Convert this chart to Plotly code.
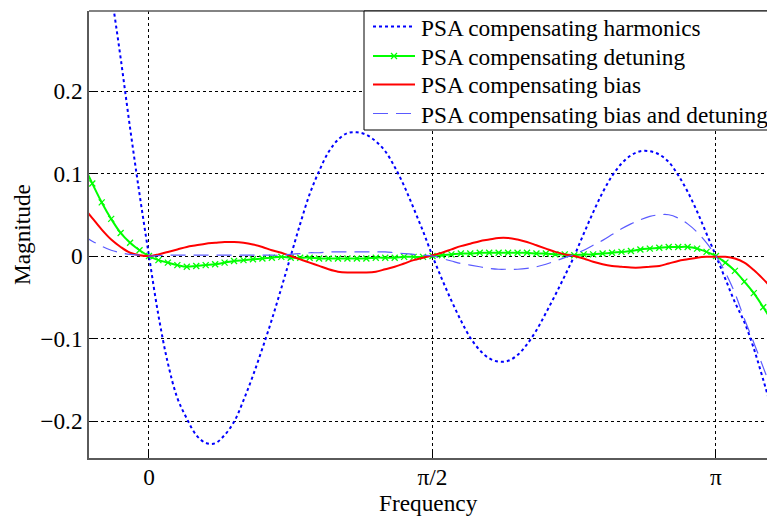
import numpy as np
import plotly.graph_objects as go

# Frequency samples (rad): k * pi/60 for k = -7 .. 66
freq = np.arange(-7, 67) * np.pi / 60

harmonics = [
    0.56, 0.48, 0.40, 0.32, 0.24, 0.155, 0.075, 0.0,
    -0.072, -0.13, -0.172, -0.197, -0.217, -0.2265, -0.227, -0.217, -0.201, -0.175, -0.145, -0.112, -0.077, -0.039, 0.0,
    0.039, 0.075, 0.103, 0.126, 0.141, 0.149, 0.150, 0.147, 0.139, 0.127, 0.108, 0.085, 0.058, 0.030, 0.0,
    -0.028, -0.054, -0.078, -0.099, -0.114, -0.124, -0.128, -0.127, -0.120, -0.107, -0.090, -0.069, -0.047, -0.024, 0.0,
    0.027, 0.053, 0.077, 0.097, 0.112, 0.122, 0.127, 0.127, 0.123, 0.114, 0.098, 0.078, 0.054, 0.027, 0.0,
    -0.028, -0.056, -0.080, -0.112, -0.150, -0.190,
]

detuning = [
    0.112, 0.088, 0.065, 0.045, 0.028, 0.016, 0.007, 0.0,
    -0.005, -0.008, -0.011, -0.013, -0.012, -0.011, -0.010, -0.008, -0.006, -0.005, -0.004, -0.003, -0.002, -0.001, -0.002,
    -0.002, -0.002, -0.003, -0.003, -0.003, -0.003, -0.003, -0.003, -0.002, -0.002, -0.002, -0.001, -0.001, -0.001, 0.0,
    0.001, 0.002, 0.003, 0.003, 0.004, 0.004, 0.004, 0.004, 0.004, 0.004, 0.003, 0.003, 0.002, 0.002, 0.001,
    0.002, 0.002, 0.003, 0.004, 0.005, 0.006, 0.008, 0.009, 0.010, 0.011, 0.011, 0.011, 0.009, 0.005, 0.0,
    -0.008, -0.018, -0.031, -0.045, -0.062, -0.080,
]

bias = [
    0.060, 0.046, 0.032, 0.020, 0.011, 0.004, 0.001, 0.0,
    0.002, 0.005, 0.008, 0.011, 0.013, 0.015, 0.016, 0.017, 0.017, 0.016, 0.014, 0.011, 0.007, 0.004, 0.0,
    -0.004, -0.008, -0.012, -0.016, -0.019, -0.020, -0.020, -0.020, -0.019, -0.016, -0.013, -0.009, -0.005, -0.002, 0.001,
    0.004, 0.008, 0.012, 0.015, 0.018, 0.020, 0.022, 0.022, 0.020, 0.017, 0.013, 0.009, 0.005, 0.002, 0.0,
    -0.003, -0.007, -0.010, -0.012, -0.013, -0.014, -0.014, -0.013, -0.012, -0.009, -0.006, -0.004, -0.002, -0.001, -0.001,
    -0.001, -0.003, -0.008, -0.017, -0.028, -0.040,
]

bias_detuning = [
    0.025, 0.018, 0.012, 0.007, 0.004, 0.002, 0.001, 0.0,
    0.0005, 0.001, 0.001, 0.001, 0.001, 0.001, 0.001, 0.001, 0.001, 0.001, 0.001, 0.001, 0.001, 0.001, 0.002,
    0.003, 0.004, 0.004, 0.005, 0.005, 0.005, 0.005, 0.005, 0.005, 0.005, 0.004, 0.003, 0.002, 0.001, 0.0,
    -0.003, -0.006, -0.009, -0.011, -0.013, -0.015, -0.016, -0.016, -0.016, -0.015, -0.013, -0.010, -0.006, -0.002, 0.002,
    0.007, 0.013, 0.019, 0.026, 0.033, 0.039, 0.044, 0.048, 0.050, 0.050, 0.046, 0.039, 0.029, 0.016, 0.0,
    -0.020, -0.045, -0.076, -0.105, -0.135, -0.165,
]

names = [
    "PSA compensating harmonics",
    "PSA compensating detuning",
    "PSA compensating bias",
    "PSA compensating bias and detuning",
]

x_tickvals = [0, np.pi / 2, np.pi]
x_ticktext = ["0", "π/2", "π"]
y_tickvals = [-0.2, -0.1, 0, 0.1, 0.2]
y_ticktext = ["−0.2", "−0.1", "0", "0.1", "0.2"]

FONT = "Liberation Serif"
FS = 23.3

# plot-area geometry in pixels (for placing the hand-drawn legend and titles)
L, R, T, B = 89, 767, 11, 458


def px(xp):
    return (xp - L) / (R - L)


def py(yp):
    return (B - yp) / (B - T)


styles = [
    dict(color="#0000ff", width=2, dash="dot"),
    dict(color="#00ff00", width=2),
    dict(color="#ff0000", width=2),
    dict(color="#5a5aff", width=1.2, dash="15px,8px"),
]
series = [harmonics, detuning, bias, bias_detuning]

fig = go.Figure()
for i, (name, ys, st) in enumerate(zip(names, series, styles)):
    kw = dict(x=freq, y=ys, name=name, showlegend=False,
              line=dict(shape="spline", **st))
    if i == 1:
        kw["mode"] = "lines+markers"
        kw["marker"] = dict(symbol="x-thin", size=6, color="#00ff00",
                            line=dict(width=1.3, color="#00ff00"))
    else:
        kw["mode"] = "lines"
    fig.add_trace(go.Scatter(**kw))

axis_common = dict(
    showline=True, linecolor="#5a5a5a", linewidth=1.5,
    ticks="inside", ticklen=6, tickcolor="black", tickwidth=1,
    showgrid=True, gridcolor="black", gridwidth=1, griddash="dot",
    zeroline=False, automargin=False,
    tickfont=dict(family=FONT, size=FS, color="black"),
)

# Legend drawn as shapes + text annotations
rows = [26.5, 56, 84.5, 113.5]
shapes = [
    dict(type="line", xref="paper", yref="paper", x0=0, x1=1, y0=1, y1=1,
         line=dict(color="#5a5a5a", width=1.5)),
    dict(type="rect", xref="paper", yref="paper", layer="above",
         x0=px(364), x1=px(790), y0=py(130), y1=py(T),
         fillcolor="white", line=dict(color="black", width=1)),
]
annotations = []
for name, st, ry in zip(names, styles, rows):
    shapes.append(dict(type="line", xref="paper", yref="paper", layer="above",
                       x0=px(373), x1=px(415), y0=py(ry), y1=py(ry),
                       line=st))
    annotations.append(dict(text=name, xref="paper", yref="paper",
                            x=px(419), y=py(ry + 1), xanchor="left", yanchor="middle",
                            showarrow=False,
                            font=dict(family=FONT, size=FS, color="black")))
# green legend marker (x)
mx, my, ms = 394, rows[1], 3
shapes.append(dict(type="path", xref="paper", yref="paper", layer="above",
                   path=(f"M {px(mx - ms)},{py(my - ms)} L {px(mx + ms)},{py(my + ms)} "
                         f"M {px(mx - ms)},{py(my + ms)} L {px(mx + ms)},{py(my - ms)}"),
                   line=dict(color="#00ff00", width=1.3)))

annotations.append(dict(text="Frequency", xref="paper", yref="paper",
                        x=0.5, y=py(503), xanchor="center", yanchor="middle",
                        showarrow=False, font=dict(family=FONT, size=FS, color="black")))
annotations.append(dict(text="Magnitude", xref="paper", yref="paper",
                        x=px(22), y=py(235), xanchor="center", yanchor="middle",
                        textangle=-90, showarrow=False,
                        font=dict(family=FONT, size=FS, color="black")))

fig.update_layout(
    width=767, height=516,
    margin=dict(l=L, r=767 - R, t=T, b=516 - B),
    paper_bgcolor="white", plot_bgcolor="white",
    font=dict(family=FONT, size=FS, color="black"),
    showlegend=False,
    xaxis=dict(range=[-0.3324, 3.4242], tickvals=x_tickvals, ticktext=x_ticktext,
               ticklabelstandoff=-3, **axis_common),
    yaxis=dict(range=[-0.2448, 0.297], tickvals=y_tickvals, ticktext=y_ticktext,
               **axis_common),
    shapes=shapes,
    annotations=annotations,
)

fig.write_html("out.html")
